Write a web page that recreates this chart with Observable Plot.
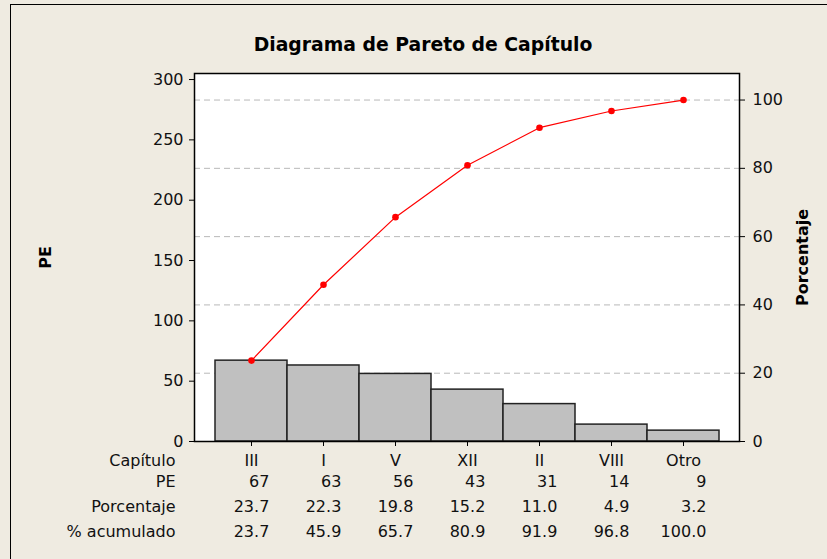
<!DOCTYPE html>
<html>
<head>
<meta charset="utf-8">
<script src="https://cdn.jsdelivr.net/npm/d3@7"></script>
<script src="https://cdn.jsdelivr.net/npm/@observablehq/plot@0.6"></script>
<style>
  html, body { margin: 0; padding: 0; background: #efebe1; overflow: hidden; }
  #wrap { position: relative; width: 827px; height: 559px; }
  #border { position: absolute; left: 10px; top: 4px; width: 900px; height: 700px;
            border: 1.5px solid #000; pointer-events: none; box-sizing: border-box; }
</style>
</head>
<body>
<div id="wrap"><div id="border"></div></div>
<script>
const categories = ["III", "I", "V", "XII", "II", "VIII", "Otro"];
const pe = [67, 63, 56, 43, 31, 14, 9];
const porcentaje = [23.7, 22.3, 19.8, 15.2, 11.0, 4.9, 3.2];
const acumulado = [23.7, 45.9, 65.7, 80.9, 91.9, 96.8, 100.0];
const leftTicks = [0, 50, 100, 150, 200, 250, 300];
const pctTicks = [0, 20, 40, 60, 80, 100];
const rowLabels = ["Capítulo", "PE", "Porcentaje", "% acumulado"];
const titleText = "Diagrama de Pareto de Capítulo";

const total = d3.sum(pe);
const data = categories.map((c, i) => ({cat: c, pe: pe[i], pct: porcentaje[i], cum: acumulado[i], cumY: acumulado[i] * total / 100}));
const pctPos = pctTicks.map(p => p * total / 100);

const FONT = "DejaVu Sans";
const ctx = document.createElement("canvas").getContext("2d");
ctx.font = `16px '${FONT}'`;

const rowDy = [19.5, 40.7, 65.5, 90.5];
const tableMarks = [];
data.forEach((d, i) => {
  const strs = [String(d.pe), d.pct.toFixed(1), d.cum.toFixed(1)];
  const maxW = d3.max(strs, s => ctx.measureText(s).width);
  strs.forEach((s, r) => {
    tableMarks.push(Plot.text([d], {x: "cat", text: () => s, frameAnchor: "bottom", lineAnchor: "middle", dy: rowDy[r + 1], dx: maxW / 2, textAnchor: "end", fill: "#111"}));
  });
});

const chart = Plot.plot({
  width: 827,
  height: 559,
  marginLeft: 194,
  marginRight: 88,
  marginTop: 73,
  marginBottom: 118,
  style: {background: "#efebe1", fontFamily: FONT, fontSize: "16px", color: "#111", overflow: "visible"},
  x: {domain: categories, paddingInner: 0, paddingOuter: 0.253, align: 0.5, axis: null},
  y: {domain: [0, 305], axis: null},
  marks: [
    Plot.frame({fill: "white", stroke: null}),
    Plot.gridY(pctPos, {stroke: "#b8b8b8", strokeOpacity: 1, strokeDasharray: "6,4", strokeWidth: 1}),
    Plot.barY(data, {x: "cat", y: "pe", fill: "#c0c0c0", stroke: "#222", strokeWidth: 1.5, insetLeft: 0, insetRight: 0}),
    Plot.line(data, {x: "cat", y: "cumY", stroke: "#ff0000", strokeWidth: 1.2}),
    Plot.dot(data, {x: "cat", y: "cumY", r: 3.3, fill: "#ff0000", stroke: null}),
    Plot.frame({stroke: "#000", strokeWidth: 1.5}),
    Plot.axisY(leftTicks, {anchor: "left", tickSize: 5, tickPadding: 6, label: null, stroke: "#000", fill: "#111"}),
    Plot.axisY(pctPos, {anchor: "right", tickSize: 5, tickPadding: 8, label: null, tickFormat: d => Math.round(d * 100 / total), stroke: "#000", fill: "#111"}),
    Plot.axisX({anchor: "bottom", tickSize: 5, tickFormat: () => "", label: null, stroke: "#000"}),
    Plot.text(data, {x: "cat", text: "cat", frameAnchor: "bottom", lineAnchor: "middle", dy: rowDy[0], fill: "#111"}),
    ...rowLabels.map((lab, r) => Plot.text([lab], {text: d => d, frameAnchor: "bottom-left", lineAnchor: "middle", dx: -19, dy: rowDy[r], textAnchor: "end", fill: "#111"})),
    ...tableMarks,
    Plot.text([titleText], {text: d => d, frameAnchor: "top", lineAnchor: "middle", dx: -44, dy: -29, fontWeight: "bold", fontSize: 18.8, fill: "#000"}),
    Plot.text(["PE"], {text: d => d, frameAnchor: "left", textAnchor: "middle", lineAnchor: "middle", dx: -149, rotate: -90, fontWeight: "bold", fontSize: 16, fill: "#000"}),
    Plot.text(["Porcentaje"], {text: d => d, frameAnchor: "right", textAnchor: "middle", lineAnchor: "middle", dx: 63, rotate: -90, fontWeight: "bold", fontSize: 16, fill: "#000"})
  ]
});

document.getElementById("wrap").prepend(chart);
chart.style.position = "absolute";
chart.style.left = "0";
chart.style.top = "0";
</script>
</body>
</html>
